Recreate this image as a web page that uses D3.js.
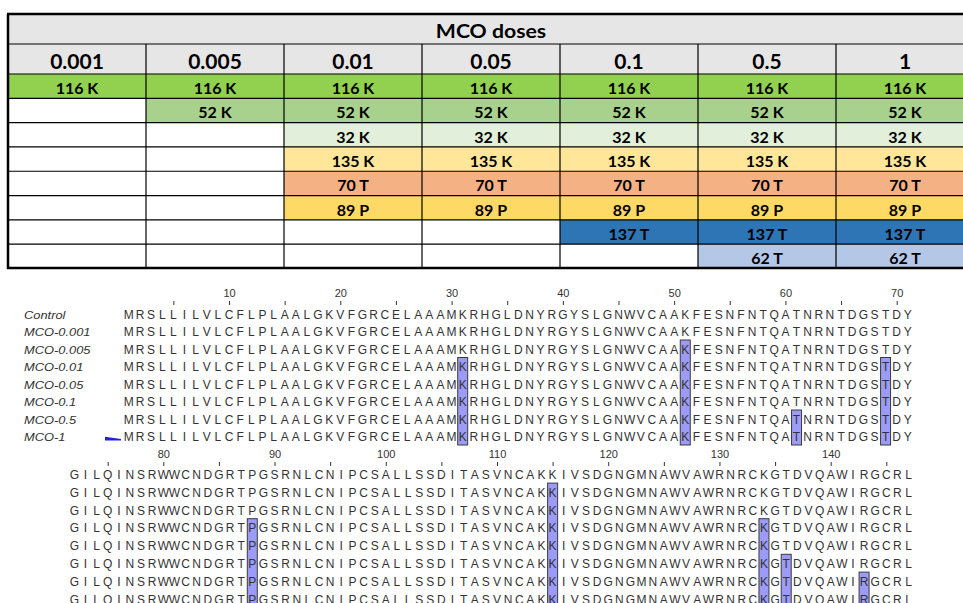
<!DOCTYPE html>
<html>
<head>
<meta charset="utf-8">
<script src="https://cdn.jsdelivr.net/npm/d3@7"></script>
<style>
html, body { margin: 0; padding: 0; background: #fff; }
svg { display: block; }
</style>
</head>
<body>
<svg id="chart" width="963" height="603"></svg>
<script>
// ---------- DATA ----------
const tableTitle = "MCO doses";
const doses = ["0.001", "0.005", "0.01", "0.05", "0.1", "0.5", "1"];
const mutations = ["116 K", "52 K", "32 K", "135 K", "70 T", "89 P", "137 T", "62 T"];
const mutationFirstDose = ["0.001", "0.005", "0.01", "0.01", "0.01", "0.01", "0.1", "0.5"];
const mutationColors = ["#92d050", "#a9d18e", "#e2efda", "#ffe699", "#f4b183", "#ffd966", "#2e75b6", "#b4c7e7"];

const sampleNames = ["Control", "MCO-0.001", "MCO-0.005", "MCO-0.01", "MCO-0.05", "MCO-0.1", "MCO-0.5", "MCO-1"];
const sequence = "MRSLLILVLCFLPLAALGKVFGRCELAAAMKRHGLDNYRGYSLGNWVCAAKFESNFNTQATNRNTDGSTDY" +
                 "GILQINSRWWCNDGRTPGSRNLCNIPCSALLSSDITASVNCAKKIVSDGNGMNAWVAWRNRCKGTDVQAWIRGCRL";
const blockStarts = [1, 72];
const blockEnds = [71, 147];
const blockTicks = [
  [5, 10, 15, 20, 25, 30, 35, 40, 45, 50, 55, 60, 65, 70],
  [75, 80, 85, 90, 95, 100, 105, 110, 115, 120, 125, 130, 135, 140, 145]
];
const highlightPositions = [31, 51, 61, 69, 88, 115, 134, 136, 143];
const highlightFirstSample = ["MCO-0.01", "MCO-0.005", "MCO-0.5", "MCO-0.01", "MCO-0.01", "MCO-0.001", "MCO-0.01", "MCO-0.1", "MCO-0.5"];

// ---------- DRAW ----------
const svg = d3.select("#chart");
const tableFont = "Lato, 'Open Sans', sans-serif";
const seqFont = "'Liberation Sans', Arial, sans-serif";

// Table scales
const xCol = d3.scaleBand().domain(doses).range([8, 974]);
const yRow = d3.scaleBand().domain(mutations).range([74, 268.5]);
const tTop = 14, tHeadBottom = 44, tDoseBottom = 74;

const table = svg.append("g");
table.append("rect").attr("x", 8).attr("y", tTop).attr("width", 966).attr("height", tDoseBottom - tTop).attr("fill", "#e7e6e6");

// cells
const cells = [];
mutations.forEach((m, i) => {
  const first = doses.indexOf(mutationFirstDose[i]);
  doses.forEach((d, j) => cells.push({ m, d, i, on: j >= first }));
});
table.selectAll("rect.cell").data(cells).join("rect")
  .attr("class", "cell")
  .attr("x", c => xCol(c.d)).attr("y", c => yRow(c.m))
  .attr("width", xCol.bandwidth()).attr("height", yRow.bandwidth())
  .attr("fill", c => c.on ? mutationColors[c.i] : "#ffffff");

table.selectAll("text.cell").data(cells.filter(c => c.on)).join("text")
  .attr("class", "cell")
  .attr("x", c => xCol(c.d) + xCol.bandwidth() / 2)
  .attr("y", c => yRow(c.m) + 20)
  .attr("text-anchor", "middle")
  .attr("font-family", tableFont).attr("font-weight", "bold").attr("font-size", 16)
  .attr("fill", "#000")
  .text(c => c.m);

// grid lines
const hLines = [tHeadBottom, tDoseBottom].concat(mutations.map(m => yRow(m) + yRow.bandwidth())).slice(0, -1);
table.selectAll("line.h").data(hLines).join("line")
  .attr("x1", 8).attr("x2", 974).attr("y1", d => d).attr("y2", d => d)
  .attr("stroke", "#000").attr("stroke-width", 1.2);
table.selectAll("line.v").data(doses.slice(1)).join("line")
  .attr("x1", d => xCol(d)).attr("x2", d => xCol(d))
  .attr("y1", tHeadBottom).attr("y2", 268.5)
  .attr("stroke", "#000").attr("stroke-width", 1.2);
// thick border
table.append("line").attr("x1", 7).attr("x2", 974).attr("y1", tTop).attr("y2", tTop).attr("stroke", "#000").attr("stroke-width", 2.5);
table.append("line").attr("x1", 7).attr("x2", 974).attr("y1", 268).attr("y2", 268).attr("stroke", "#000").attr("stroke-width", 2.5);
table.append("line").attr("x1", 8).attr("x2", 8).attr("y1", tTop).attr("y2", 269).attr("stroke", "#000").attr("stroke-width", 2.5);

// header texts
table.append("text").attr("transform", "translate(491,37.5) scale(1.18,1)").attr("text-anchor", "middle")
  .attr("font-family", tableFont).attr("font-weight", "bold").attr("font-size", 18)
  .text(tableTitle);
table.selectAll("text.dose").data(doses).join("text")
  .attr("class", "dose")
  .attr("x", d => xCol(d) + xCol.bandwidth() / 2).attr("y", 68.5)
  .attr("text-anchor", "middle")
  .attr("font-family", tableFont).attr("font-weight", "bold").attr("font-size", 21)
  .text(d => d);

// ---------- Alignment ----------
const blockX = [
  d3.scaleLinear().domain([10, 70]).range([229, 896.7]),
  d3.scaleLinear().domain([80, 140]).range([163.3, 830.7])
];
const blockRowY = [
  d3.scaleBand().domain(sampleNames).range([305.5, 305.5 + 17.5 * 8]),
  d3.scaleBand().domain(sampleNames).range([465.8, 465.8 + 17.8 * 8])
];
const blockAxisY = [305, 466];

const aln = svg.append("g");

// names (first block only)
aln.selectAll("text.name").data(sampleNames).join("text")
  .attr("class", "name")
  .attr("transform", d => `translate(24,${blockRowY[0](d) + blockRowY[0].bandwidth() / 2 + 4.3}) scale(1.25,1)`)
  .attr("font-family", seqFont).attr("font-style", "italic").attr("font-size", 10.3)
  .attr("fill", "#333").text(d => d);

// small blue marker next to last name
aln.append("polygon")
  .attr("points", [[105, 436.8], [121, 439], [121, 440.5], [105, 440.5]].map(p => p.join(",")).join(" "))
  .attr("fill", "#2020e0");

blockStarts.forEach((start, b) => {
  const x = blockX[b], y = blockRowY[b];
  const g = aln.append("g");
  // axis
  const axis = d3.axisTop(x).tickValues(blockTicks[b]).tickSize(4).tickPadding(4)
    .tickFormat(v => v % 10 === 0 ? v : "");
  const ga = g.append("g").attr("transform", `translate(0,${blockAxisY[b]})`).call(axis);
  ga.select(".domain").remove();
  ga.selectAll(".tick line").attr("stroke", "#333");
  ga.selectAll(".tick text").attr("font-family", seqFont).attr("font-size", 11).attr("fill", "#333");

  // highlights in this block
  const hl = highlightPositions.map((p, k) => ({ p, first: highlightFirstSample[k] }))
    .filter(h => h.p >= start && h.p <= blockEnds[b]);
  g.selectAll("rect.hl").data(hl).join("rect")
    .attr("class", "hl")
    .attr("x", h => x(h.p) - 5).attr("width", 10)
    .attr("y", h => y(h.first) - 0.5)
    .attr("height", h => y(sampleNames[sampleNames.length - 1]) + y.bandwidth() - y(h.first))
    .attr("fill", "#9c9cf8").attr("stroke", "#3a3a3a").attr("stroke-width", 1);

  // letters
  const residues = d3.range(start, blockEnds[b] + 1);
  const letters = [];
  sampleNames.forEach(s => residues.forEach(p => letters.push({ s, p, c: sequence[p - 1] })));
  g.selectAll("text.res").data(letters).join("text")
    .attr("class", "res")
    .attr("x", d => x(d.p)).attr("y", d => y(d.s) + y.bandwidth() / 2 + 4.3)
    .attr("text-anchor", "middle")
    .attr("font-family", seqFont).attr("font-size", 12).attr("fill", "#333")
    .text(d => d.c);
});
</script>
</body>
</html>
